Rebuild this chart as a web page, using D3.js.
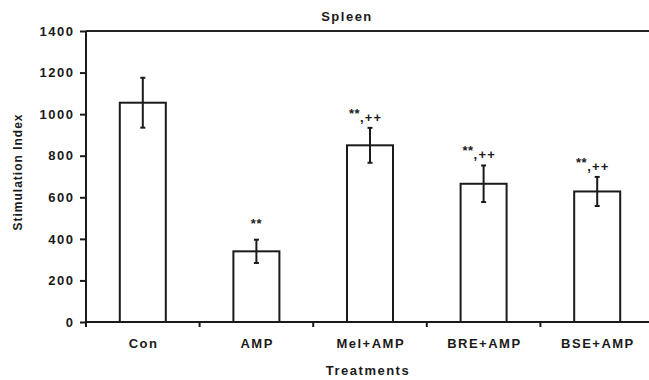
<!DOCTYPE html>
<html>
<head>
<meta charset="utf-8">
<script src="https://cdn.jsdelivr.net/npm/d3@7"></script>
<style>
  html, body { margin: 0; padding: 0; background: #fff; }
  svg { display: block; }
  text { font-family: "Liberation Sans", Arial, sans-serif; font-weight: bold; fill: #1a1a1a; }
</style>
</head>
<body>
<svg id="chart" width="649" height="380"></svg>
<script>
const categories = ["Con", "AMP", "Mel+AMP", "BRE+AMP", "BSE+AMP"];
const means = [1055, 340, 850, 665, 628];
const errors = [120, 56, 84, 88, 70];
const starMarks = ["", "**", "**", "**", "**"];
const plusMarks = ["", "", ",++", ",++", ",++"];
const yTicks = [0, 200, 400, 600, 800, 1000, 1200, 1400];
const title = "Spleen";
const xTitle = "Treatments";
const yTitle = "Stimulation Index";

const svg = d3.select("#chart");
const mLeft = 86, mRight = 654, mTop = 31, mBottom = 322;

const x = d3.scaleBand().domain(categories).range([mLeft, mRight])
  .paddingInner(0.595).paddingOuter(0.2975);
const xSlots = d3.scaleBand().domain(categories).range([mLeft, mRight]);
const y = d3.scaleLinear().domain([0, 1400]).range([mBottom, mTop]);

// frame top line
svg.append("line").attr("x1", mLeft).attr("x2", mRight).attr("y1", y(1400)).attr("y2", y(1400))
  .attr("stroke", "#222").attr("stroke-width", 2);

// bars
svg.append("g").selectAll("rect").data(categories).join("rect")
  .attr("x", d => x(d))
  .attr("y", (d, i) => y(means[i]))
  .attr("width", x.bandwidth())
  .attr("height", (d, i) => y(0) - y(means[i]))
  .attr("fill", "#fff").attr("stroke", "#1a1a1a").attr("stroke-width", 2);

// error bars
const eb = svg.append("g").attr("stroke", "#1a1a1a").attr("stroke-width", 2);
categories.forEach((c, i) => {
  const cx = x(c) + x.bandwidth() / 2;
  const yt = y(means[i] + errors[i]), yb = y(means[i] - errors[i]);
  eb.append("line").attr("x1", cx).attr("x2", cx).attr("y1", yt).attr("y2", yb);
  eb.append("line").attr("x1", cx - 2.5).attr("x2", cx + 2.5).attr("y1", yt).attr("y2", yt);
  eb.append("line").attr("x1", cx - 2.5).attr("x2", cx + 2.5).attr("y1", yb).attr("y2", yb);
});

// significance marks
const ann = svg.append("g");
categories.forEach((c, i) => {
  const cx = x(c) + x.bandwidth() / 2;
  const yt = y(means[i] + errors[i]);
  if (plusMarks[i]) {
    ann.append("text").attr("x", cx - 10).attr("y", yt - 10).attr("text-anchor", "end")
      .style("font-size", "13px").style("letter-spacing", "0.5px").text(starMarks[i]);
    ann.append("text").attr("x", cx - 10).attr("y", yt - 6).attr("text-anchor", "start")
      .style("font-size", "13px").style("letter-spacing", "1.2px").text(plusMarks[i]);
  } else if (starMarks[i]) {
    ann.append("text").attr("x", cx).attr("y", yt - 12).attr("text-anchor", "middle")
      .style("font-size", "13px").style("letter-spacing", "0.5px").text(starMarks[i]);
  }
});

// y axis
const yAxis = svg.append("g").attr("transform", `translate(${mLeft},0)`)
  .call(d3.axisLeft(y).tickValues(yTicks).tickSize(6).tickPadding(7).tickFormat(d3.format("d")));
yAxis.select(".domain").attr("stroke", "#1a1a1a").attr("stroke-width", 2).attr("d", `M0,${mTop}V${mBottom}`);
yAxis.selectAll(".tick line").attr("stroke", "#1a1a1a").attr("stroke-width", 2);
yAxis.selectAll(".tick text").style("font-size", "13px").style("letter-spacing", "1.5px")
  .attr("dx", "1.5px")
  .style("font-family", "'Liberation Sans', Arial, sans-serif").style("font-weight", "bold").attr("fill", "#1a1a1a");

// x axis
svg.append("line").attr("x1", mLeft).attr("x2", mRight).attr("y1", mBottom).attr("y2", mBottom)
  .attr("stroke", "#1a1a1a").attr("stroke-width", 2);
const tickPos = categories.map(c => xSlots(c));
svg.append("g").selectAll("line").data(tickPos).join("line")
  .attr("x1", d => d).attr("x2", d => d).attr("y1", mBottom).attr("y2", mBottom + 5)
  .attr("stroke", "#1a1a1a").attr("stroke-width", 2);
svg.append("g").selectAll("text").data(categories).join("text")
  .attr("x", d => x(d) + x.bandwidth() / 2 + 0.75).attr("y", 348)
  .attr("text-anchor", "middle").style("font-size", "13px").style("letter-spacing", "1.5px")
  .text(d => d);

// titles
svg.append("text").attr("x", 347).attr("y", 21).attr("text-anchor", "middle")
  .style("font-size", "13px").style("letter-spacing", "1.5px").text(title);
svg.append("text").attr("x", 368).attr("y", 375).attr("text-anchor", "middle")
  .style("font-size", "13px").style("letter-spacing", "1.5px").text(xTitle);
svg.append("text").attr("transform", "translate(22,172) rotate(-90)").attr("text-anchor", "middle")
  .style("font-size", "12px").style("letter-spacing", "1px").text(yTitle);
</script>
</body>
</html>
